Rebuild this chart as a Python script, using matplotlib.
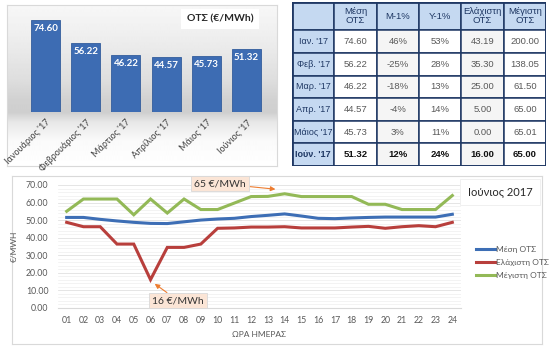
import numpy as np
import matplotlib
matplotlib.use("Agg")
import matplotlib.pyplot as plt
from matplotlib.patches import Rectangle

# ---------------- data ----------------
months_long = ["Ιανουάριος '17", "Φεβρουάριος '17", "Μάρτιος '17",
               "Απρίλιος '17", "Μάιος '17", "Ιούνιος '17"]
months_short = ["Ιαν. '17", "Φεβ. '17", "Μαρ. '17", "Απρ. '17", "Μάιος '17", "Ιούν. '17"]
avg_month = [74.60, 56.22, 46.22, 44.57, 45.73, 51.32]
m1_pct = [46, -25, -18, -4, 3, 12]
y1_pct = [53, 28, 13, 14, 11, 24]
min_month = [43.19, 35.30, 25.00, 5.00, 0.00, 16.00]
max_month = [200.00, 138.05, 61.50, 65.00, 65.01, 65.00]
table_headers = ["Μέση\nΟΤΣ", "M-1%", "Y-1%", "Ελάχιστη\nΟΤΣ", "Μέγιστη\nΟΤΣ"]

hours = list(range(1, 25))
hour_labels = [f"{h:02d}" for h in hours]
avg_hour = [51.5, 51.5, 50.4, 49.5, 48.7, 48.1, 48.0, 49.0, 50.0, 50.6, 51.0, 52.0,
            52.7, 53.5, 52.3, 51.0, 50.8, 51.2, 51.5, 51.7, 51.7, 51.7, 51.7, 53.3]
min_hour = [48.7, 46.2, 46.2, 36.3, 36.3, 16.0, 34.4, 34.4, 36.3, 45.3, 45.5, 46.0,
            46.0, 46.2, 45.5, 45.5, 45.5, 46.0, 46.4, 45.3, 46.2, 46.8, 46.2, 48.7]
max_hour = [55.0, 62.0, 62.0, 62.0, 53.0, 62.0, 54.0, 62.0, 56.0, 56.0, 59.7, 63.4,
            63.5, 65.0, 63.4, 63.4, 63.4, 63.4, 59.0, 59.0, 56.0, 56.0, 56.0, 64.0]
series_names = ["Μέση ΟΤΣ", "Ελάχιστη ΟΤΣ", "Μέγιστη ΟΤΣ"]

# ---------------- figure ----------------
W, H = 557, 354
fig = plt.figure(figsize=(W / 100, H / 100), dpi=100)
fig.patch.set_facecolor("white")


def rect(x0, y0, x1, y1):
    return [x0 / W, 1 - y1 / H, (x1 - x0) / W, (y1 - y0) / H]


CAL = ["Lato", "DejaVu Sans"]
ARI = ["Liberation Sans", "DejaVu Sans"]

# ---------- top-left: bar chart panel ----------
bg = fig.add_axes(rect(7, 5, 277, 166))
ys = np.array([5, 40, 80, 100, 112, 122, 140, 166], dtype=float)
gs = np.array([0.97, 0.93, 0.87, 0.82, 0.81, 0.91, 0.98, 1.0])
rows = np.interp(np.arange(5, 166), ys, gs)
grad = np.repeat(rows[:, None], 10, axis=1)
bg.imshow(grad, cmap="gray", vmin=0, vmax=1, aspect="auto", extent=[0, 1, 0, 1])
bg.set_xticks([]); bg.set_yticks([])
for s in bg.spines.values():
    s.set_color("#d9d9d9"); s.set_linewidth(0.8)

axb = fig.add_axes(rect(25, 13.3, 267, 112))
axb.patch.set_alpha(0)
x = np.arange(len(avg_month))
bars = axb.bar(x, avg_month, width=0.72, color="#3d6cb3", edgecolor="#335d9c", linewidth=0.6)
axb.set_xlim(-0.51, 5.51)
axb.set_ylim(0, 80)
for xi, v in zip(x, avg_month):
    axb.text(xi, v - 3.5, f"{v:.2f}", ha="center", va="top", color="white",
             fontsize=7, fontweight="bold", family=CAL)
axb.set_yticks([])
axb.set_xticks(x)
axb.set_xticklabels(months_long, rotation=45, ha="right", rotation_mode="anchor",
                    fontsize=6.5, color="#404040", family=CAL)
axb.tick_params(axis="x", length=0, pad=4)
for s in axb.spines.values():
    s.set_visible(False)

fig.text(220 / W, 1 - 19 / H, "ΟΤΣ (€/MWh)", ha="center", va="center", fontsize=7.5,
         fontweight="bold", color="#262626", family=CAL,
         bbox=dict(boxstyle="square,pad=0.55", fc="white", ec="none"))

# ---------- top-right: table ----------
axt = fig.add_axes(rect(292, 2, 546, 166))
axt.set_xlim(0, 6)
axt.set_ylim(7.25, 0)
axt.axis("off")
navy = "#1f3864"
blue_cell = "#c5d9f1"
row_tops = [0] + [1.25 + i for i in range(6)]
row_h = [1.25] + [1.0] * 6
cols_vals = []
for i in range(6):
    cols_vals.append([f"{avg_month[i]:.2f}", f"{m1_pct[i]}%", f"{y1_pct[i]}%",
                      f"{min_month[i]:.2f}", f"{max_month[i]:.2f}"])
for r in range(7):
    for c in range(6):
        if r == 0 or c == 0:
            fc = blue_cell
        else:
            fc = "#f5f5f5" if c % 2 == 0 else "#ffffff"
        axt.add_patch(Rectangle((c, row_tops[r]), 1, row_h[r], fc=fc, ec=navy, lw=1.1))
        cy = row_tops[r] + row_h[r] / 2
        if r == 0 and c > 0:
            axt.text(c + 0.5, cy, table_headers[c - 1], ha="center", va="center",
                     fontsize=6.8, color="#1f3864", family=ARI, linespacing=1.0)
        elif r > 0 and c == 0:
            last = r == 6
            axt.text(c + 0.5, cy, months_short[r - 1], ha="center", va="center",
                     fontsize=6.5, color=navy, family=ARI,
                     fontweight="bold" if last else "normal")
        elif r > 0:
            last = r == 6
            axt.text(c + 0.5, cy, cols_vals[r - 1][c - 1], ha="center", va="center",
                     fontsize=6.8, color="#111111" if last else "#595959", family=ARI,
                     fontweight="bold" if last else "normal")
axt.add_patch(Rectangle((0, 0), 6, 7.25, fc="none", ec=navy, lw=2.0))

# ---------- bottom: line chart ----------
pan = fig.add_axes(rect(12, 176, 542, 344))
pan.set_xticks([]); pan.set_yticks([])
for s in pan.spines.values():
    s.set_color("#d9d9d9"); s.set_linewidth(0.8)
pan.set_zorder(0)

axl = fig.add_axes(rect(58.3, 185, 460.7, 307.7))
axl.set_zorder(1)
axl.patch.set_alpha(0)
axl.set_xlim(0.5, 24.5)
axl.set_ylim(0, 70)
axl.set_yticks(np.arange(0, 71, 10))
axl.set_yticks(np.arange(0, 71, 2), minor=True)
axl.grid(axis="y", which="minor", color="#efefef", lw=0.5)
axl.grid(axis="y", which="major", color="#e0e0e0", lw=0.6)
axl.set_yticklabels([f"{v:.2f}" for v in np.arange(0, 71, 10)])
axl.set_xticks(hours)
axl.set_xticklabels(hour_labels)
axl.tick_params(axis="both", which="both", length=0, labelsize=6.3, labelcolor="#595959")
axl.tick_params(axis="y", pad=7)
axl.tick_params(axis="x", pad=6)
for lab in axl.get_xticklabels() + axl.get_yticklabels():
    lab.set_family(CAL)
for k, s in axl.spines.items():
    s.set_visible(k == "bottom")
axl.spines["bottom"].set_color("#d9d9d9")

l1, = axl.plot(hours, avg_hour, color="#3d6eb5", lw=2.2, solid_joinstyle="miter")
l2, = axl.plot(hours, min_hour, color="#b83f3c", lw=2.2, solid_joinstyle="miter")
l3, = axl.plot(hours, max_hour, color="#93b957", lw=2.2, solid_joinstyle="miter")

axl.set_ylabel("€/MWH", fontsize=6, color="#595959", family=CAL, labelpad=6)
axl.set_xlabel("ΩΡΑ ΗΜΕΡΑΣ", fontsize=6, color="#595959", family=CAL, labelpad=4)

arrowc = "#ed7d31"
axl.annotate("65 €/MWh", xy=(13.45, 67.6), xytext=(10.14, 70.8),
             ha="center", va="center", fontsize=7.5, color="#333333", family=CAL,
             bbox=dict(boxstyle="square,pad=0.3", fc="#fbe5d6", ec="#d9d9d9", lw=0.6),
             arrowprops=dict(arrowstyle="-|>", color=arrowc, lw=0.8, mutation_scale=7,
                             shrinkA=0, shrinkB=0),
             annotation_clip=False)
axl.annotate("16 €/MWh", xy=(6.25, 13.6), xytext=(7.64, 4.1),
             ha="center", va="center", fontsize=7.5, color="#333333", family=CAL,
             bbox=dict(boxstyle="square,pad=0.3", fc="#fbe5d6", ec="#d9d9d9", lw=0.6),
             arrowprops=dict(arrowstyle="-|>", color=arrowc, lw=0.8, mutation_scale=7,
                             shrinkA=0, shrinkB=0),
             annotation_clip=False)

leg = fig.legend([l1, l2, l3], series_names, loc="upper left",
                 bbox_to_anchor=(468 / W, 1 - 238 / H), frameon=False,
                 handlelength=2.3, handletextpad=0.1, labelspacing=0.75,
                 prop={"family": CAL, "size": 6})
for t in leg.get_texts():
    t.set_color("#595959")

fig.text(500 / W, 1 - 192 / H, "Ιούνιος 2017", ha="center", va="center", fontsize=8,
         color="#262626", family=CAL,
         bbox=dict(boxstyle="square,pad=0.7", fc="white", ec="#eeeeee", lw=0.6))

fig.savefig("out.png", dpi=100, facecolor="white")
